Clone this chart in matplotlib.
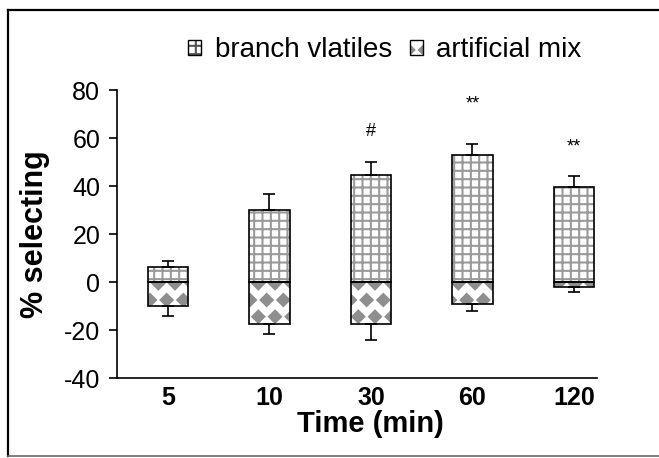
import matplotlib
matplotlib.use("Agg")
import matplotlib.pyplot as plt
import numpy as np
from matplotlib import hatch as mhatch
from matplotlib.path import Path
from matplotlib.lines import Line2D
from matplotlib.patches import Rectangle

# values
times = ["5", "10", "30", "60", "120"]
branch = [6.3, 30.2, 44.6, 53.1, 39.7]
branch_err = [2.4, 6.6, 5.6, 4.6, 4.6]
mix = [-10.2, -17.4, -17.4, -9.2, -1.9]
mix_err = [3.8, 4.1, 6.9, 2.9, 2.1]
marks = ["", "", "#", "**", "**"]
mark_y = [0, 0, 62.6, 74.0, 56.2]

GRID = "#9a9a9a"
DIAM = "#8e8e8e"


# '*' hatch drawn as a lattice of filled diamonds (the excel "diamond" fill)
class Diamonds(mhatch.Shapes):
    size = 0.36
    filled = True

    def __init__(self, hatch, density):
        self.num_rows = hatch.count("*") * density
        path = Path.unit_regular_polygon(4)
        self.shape_vertices = path.vertices
        self.shape_codes = path.codes
        super().__init__(hatch, density)


mhatch._hatch_types[mhatch._hatch_types.index(mhatch.Stars)] = Diamonds

plt.rcParams["font.family"] = ["Liberation Sans", "DejaVu Sans"]
plt.rcParams["hatch.linewidth"] = 1.5
plt.rcParams["axes.unicode_minus"] = False

fig = plt.figure(figsize=(6.59, 4.58), dpi=100)
ax = fig.add_axes([117 / 659, 80 / 458, 480 / 659, 288 / 458])

x = np.arange(len(times))
w = 0.40
zeros = np.zeros(len(x))

ax.bar(x, branch, w, color="white", edgecolor=GRID, hatch="++", linewidth=0)
ax.bar(x, mix, w, color="white", edgecolor=DIAM, hatch="*", linewidth=0)
ax.bar(x, branch, w, fill=False, edgecolor="black", linewidth=1.2)
ax.bar(x, mix, w, fill=False, edgecolor="black", linewidth=1.2)

ax.errorbar(x, branch, yerr=[zeros, branch_err], fmt="none", ecolor="black",
            elinewidth=1.2, capsize=4, capthick=1.2)
ax.errorbar(x, mix, yerr=[mix_err, zeros], fmt="none", ecolor="black",
            elinewidth=1.2, capsize=4, capthick=1.2)

for xi, m, my in zip(x, marks, mark_y):
    if m:
        ax.text(xi, my, m, ha="center", va="center", fontsize=13)

ax.set_ylim(-40, 80)
ax.set_yticks(np.arange(-40, 81, 20))
ax.set_xlim(-0.502, 4.227)
ax.set_xticks(x)
ax.set_xticklabels(times, fontweight="bold")
ax.tick_params(axis="x", length=0, pad=6, labelsize=18)
ax.tick_params(axis="y", direction="out", length=6, width=1.2, pad=6, labelsize=18)
for side in ["top", "right"]:
    ax.spines[side].set_visible(False)
for side in ["left", "bottom"]:
    ax.spines[side].set_linewidth(1.2)

ax.set_xlabel("Time (min)", fontsize=21, fontweight="bold")
ax.xaxis.set_label_coords(0.529, -0.11)
ax.set_ylabel("% selecting", fontsize=22, fontweight="bold")
ax.yaxis.set_label_coords(-0.14, 0.5)

h1 = (Rectangle((0, 0), 1, 1, facecolor="white", edgecolor="#555555", hatch="++", linewidth=0),
      Rectangle((0, 0), 1, 1, fill=False, edgecolor="black", linewidth=1.0))
h2 = (Rectangle((0, 0), 1, 1, facecolor="white", edgecolor=DIAM, hatch="*", linewidth=0),
      Rectangle((0, 0), 1, 1, fill=False, edgecolor="black", linewidth=1.0))
fig.legend([h1, h2], ["branch vlatiles", "artificial mix"], loc="center",
           bbox_to_anchor=(385 / 659, 1 - 50 / 458), ncol=2, frameon=False,
           fontsize=20, handlelength=0.45, handleheight=0.45,
           handletextpad=0.5, columnspacing=0.65)

# frame round the whole picture, cut off on the right
fig.add_artist(Line2D([8 / 659, 1], [1 - 10 / 458] * 2, color="black", lw=1.6))
fig.add_artist(Line2D([8 / 659] * 2, [2 / 458, 1 - 10 / 458], color="black", lw=1.6))
fig.add_artist(Line2D([8 / 659, 1], [2 / 458] * 2, color="#666666", lw=1.2))

fig.savefig("out.png", dpi=100)
